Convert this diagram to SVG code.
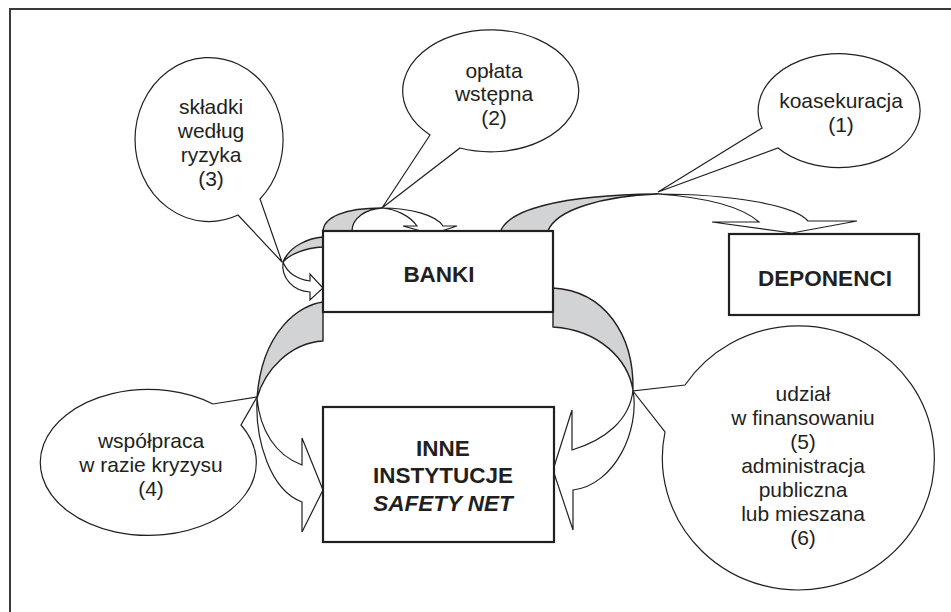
<svg xmlns="http://www.w3.org/2000/svg" width="951" height="612" viewBox="0 0 951 612">
<style>
.frame{fill:none;stroke:#3a3a3a;stroke-width:2}
.box{fill:#fff;stroke:#231f20;stroke-width:2.2}
.bub{fill:#fff;stroke:#231f20;stroke-width:1.2;stroke-linejoin:miter}
.back{fill:#d1d3d4;stroke:#231f20;stroke-width:1.4;stroke-linejoin:round}
.front{fill:#fff;stroke:#231f20;stroke-width:1.2;stroke-linejoin:miter}
.t{font-family:"Liberation Sans",Arial,sans-serif;font-size:21px;fill:#231f20;text-anchor:middle}
.b{font-family:"Liberation Sans",Arial,sans-serif;font-size:22.5px;font-weight:bold;fill:#231f20;text-anchor:middle}
</style>
<rect width="951" height="612" fill="#fff"/>
<rect class="frame" x="10" y="9" width="960" height="620"/>

<g id="bubble-3">
<path class="bub" d="M260,199 A74,82 0 1 0 238,215 L282,262 Z"/>
<text class="t" x="211" y="114">składki</text>
<text class="t" x="211" y="138">według</text>
<text class="t" x="211" y="162">ryzyka</text>
<text class="t" x="211" y="186">(3)</text>
</g>
<g id="bubble-2">
<path class="bub" d="M430,135 A88,61 0 1 1 460,148 L382,208 Z"/>
<text class="t" x="494" y="78">opłata</text>
<text class="t" x="494" y="101">wstępna</text>
<text class="t" x="494" y="125">(2)</text>
</g>
<g id="bubble-1">
<path class="bub" d="M762,128 A81,57 0 1 1 778,148 L658,192 Z"/>
<text class="t" x="841" y="108">koasekuracja</text>
<text class="t" x="841" y="132">(1)</text>
</g>
<g id="bubble-4">
<path class="bub" d="M213,404 A108,73 0 1 0 241,425 L257,397 Z"/>
<text class="t" x="151" y="448">współpraca</text>
<text class="t" x="151" y="472">w razie kryzysu</text>
<text class="t" x="151" y="496">(4)</text>
</g>
<g id="bubble-56">
<path class="bub" d="M685,385 A136,132 0 1 1 665,432 L633,391 Z"/>
<text class="t" x="803" y="401">udział</text>
<text class="t" x="803" y="425">w finansowaniu</text>
<text class="t" x="803" y="449">(5)</text>
<text class="t" x="803" y="473">administracja</text>
<text class="t" x="803" y="497">publiczna</text>
<text class="t" x="803" y="521">lub mieszana</text>
<text class="t" x="803" y="545">(6)</text>
</g>

<g id="connectors">
<g id="arrow-2">
<path class="back" d="M323,232 C323,217 345,208 382,208 C366,209 352,218 352,231 Z"/>
<path class="front" d="M382,208 C410,208 436,215 443,226 L457,226 L432,234 L403,226 L417,226 C410,216 396,209 382,208 Z"/>
</g>
<g id="arrow-1">
<path class="back" d="M500,233 C506,210 560,195 657,194 C605,196 556,209 548,231 Z"/>
<path class="front" d="M657,194 C730,194 795,205 808,221 L857,221 L792,233 L712,222 L759,222 C740,205 700,197 657,194 Z"/>
</g>
<g id="arrow-3">
<path class="back" d="M323,237 C310,238 290,245 283,262 C290,254 305,248 323,247 Z"/>
<path class="front" d="M283,262 C281,278 293,291 310,292 L310,300 L323,288 L310,274 L310,281 C296,279 287,272 283,262 Z"/>
</g>
<g id="arrow-4">
<path class="back" d="M323,302 C300,305 262,330 257,398 C265,370 290,343 323,341 Z"/>
<path class="front" d="M257,398 C255,440 270,490 302,502 L302,532 L323,490 L302,438 L302,465 C275,455 260,430 257,398 Z"/>
</g>
<g id="arrow-5">
<path class="back" d="M553,288 C605,291 634,335 633,390 C628,360 600,330 553,327 Z"/>
<path class="front" d="M633,390 C640,430 615,485 573,490 L573,530 L553,470 L572,410 L572,450 C605,440 630,420 633,390 Z"/>
</g>
</g>

<g id="banki">
<rect class="box" x="323" y="231" width="230" height="81"/>
<text class="b" x="439" y="282">BANKI</text>
</g>
<g id="deponenci">
<rect class="box" x="729" y="234" width="190" height="81"/>
<text class="b" x="825" y="286">DEPONENCI</text>
</g>
<g id="inne">
<rect class="box" x="323" y="407" width="231" height="135"/>
<text class="b" x="443" y="456">INNE</text>
<text class="b" x="443" y="483">INSTYTUCJE</text>
<text class="b" x="443" y="511" font-style="italic">SAFETY NET</text>
</g>
</svg>
